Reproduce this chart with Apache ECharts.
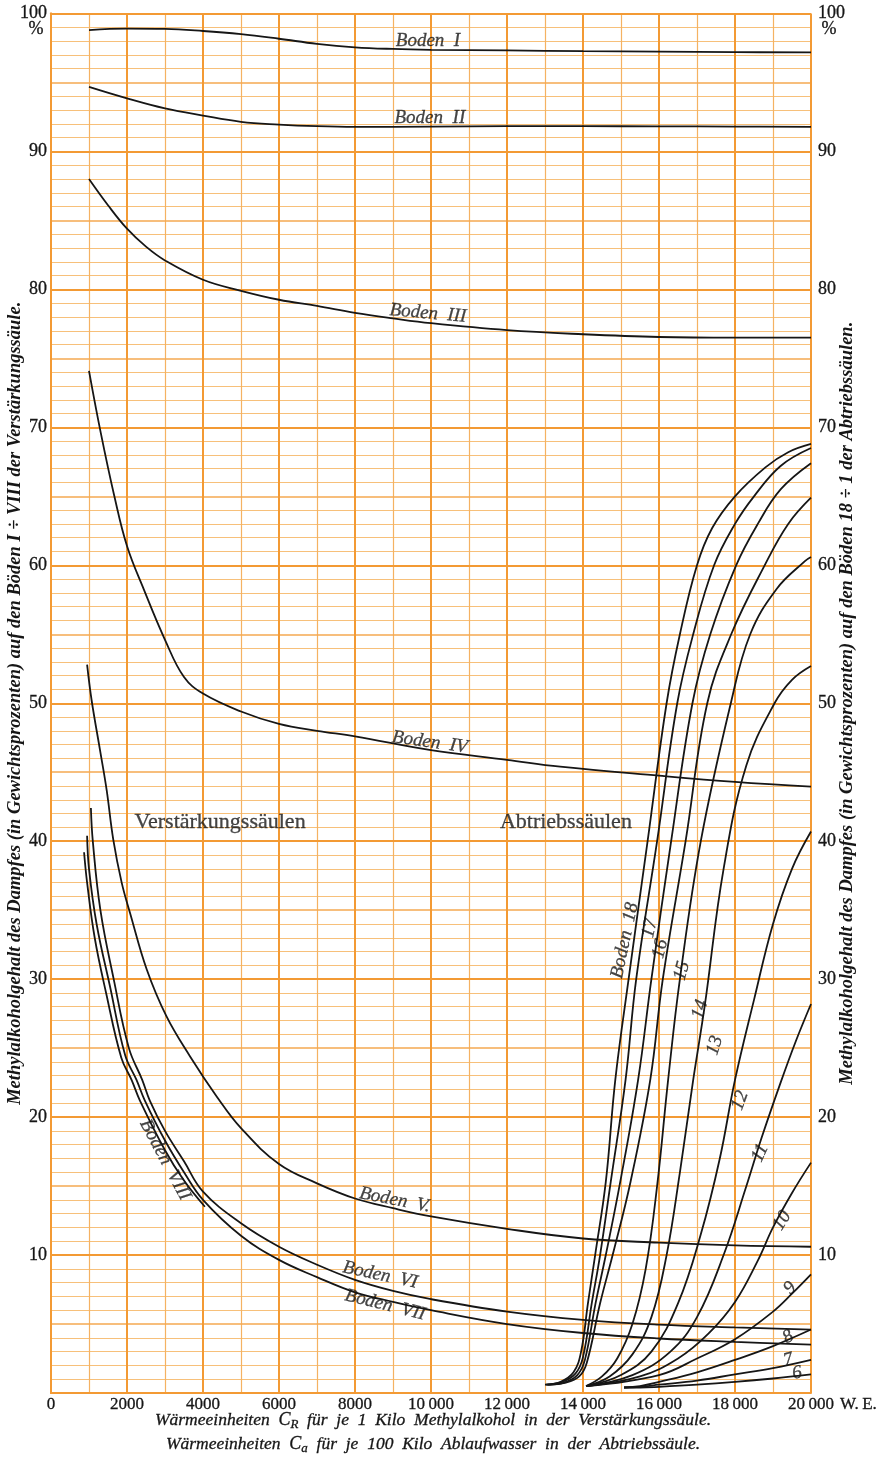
<!DOCTYPE html>
<html>
<head>
<meta charset="utf-8">
<script src="https://cdn.jsdelivr.net/npm/echarts@6/dist/echarts.min.js"></script>
<style>
html,body{margin:0;padding:0;background:#fff;}
#chart{width:880px;height:1460px;}
</style>
</head>
<body>
<div id="chart"></div>
<script>
// Heat units (W.E.) on x, methyl alcohol content of the vapour (% by weight) on y.
const xTickLabels = {0:'0',2000:'2000',4000:'4000',6000:'6000',8000:'8000',10000:'10\u2009000',12000:'12\u2009000',14000:'14\u2009000',16000:'16\u2009000',18000:'18\u2009000',20000:'20\u2009000'};

// Verstärkungssäule, plates I – VIII
const bodenI = [[1000,98.8],[2000,98.9],[3000,98.88],[4000,98.73],[5000,98.5],[6000,98.17],[7000,97.8],[8000,97.55],[9000,97.43],[10000,97.37],[12000,97.32],[14000,97.27],[16000,97.23],[18000,97.2],[20000,97.18]];
const bodenII = [[1000,94.68],[2000,93.85],[3000,93.12],[4000,92.6],[5000,92.15],[6000,91.95],[7000,91.83],[8000,91.78],[10000,91.8],[12000,91.83],[14000,91.83],[16000,91.82],[18000,91.8],[20000,91.78]];
const bodenIII = [[1000,88.0],[1500,86.1],[2000,84.4],[2500,83.1],[3000,82.1],[4000,80.7],[5000,79.9],[6000,79.25],[7000,78.8],[8000,78.3],[9000,77.9],[10000,77.55],[12000,77.05],[14000,76.75],[16000,76.55],[18000,76.5],[20000,76.5]];
const bodenIV = [[1000,74.1],[1310,69.6],[1660,65.1],[2000,61.4],[2450,58.2],[3000,54.6],[3500,51.9],[4000,50.7],[5000,49.4],[6000,48.5],[7000,48.0],[8000,47.6],[10000,46.6],[12000,45.9],[13400,45.4],[16000,44.75],[18000,44.3],[20000,43.95]];
const bodenV = [[950,52.8],[1070,50.2],[1290,46.6],[1465,43.7],[1640,40.1],[1860,37.0],[2080,34.8],[2520,30.7],[3040,27.3],[3660,24.4],[4360,21.5],[5000,19.2],[6000,16.6],[7000,15.2],[8000,14.1],[9000,13.4],[10000,12.8],[12000,11.9],[14000,11.2],[16000,10.9],[18000,10.7],[20000,10.6]];
const bodenVI = [[1050,42.4],[1100,40],[1300,35],[1650,30],[2050,25],[2400,22.7],[2600,21.2],[3000,19],[3500,16.8],[4000,14.6],[5000,12.3],[6000,10.6],[7000,9.3],[8000,8.2],[9000,7.4],[10000,6.8],[12000,5.9],[14000,5.3],[16000,4.95],[18000,4.75],[20000,4.6]];
const bodenVII = [[950,40.4],[1000,38],[1200,34],[1550,29.5],[1950,24.5],[2250,22.7],[2470,21.2],[3000,18.3],[3500,16.0],[4000,14.0],[5000,11.4],[6000,9.65],[7000,8.4],[8000,7.3],[9000,6.6],[10000,6.0],[12000,5.0],[14000,4.35],[16000,3.95],[18000,3.7],[20000,3.5]];
const bodenVIII = [[870,39.2],[950,37],[1150,33],[1450,29],[1850,24.3],[2120,22.7],[2340,21.2],[3000,17.6],[3500,15.4],[4050,13.5]];

// Abtriebssäule, plates 18 – 6
const boden18 = [[13000,0.6],[13400,0.8],[13750,1.5],[13950,3.0],[14130,6.5],[14320,10],[14600,15.3],[14850,22.7],[15200,30],[15700,40],[16200,50],[16550,55],[17000,60],[17400,62.7],[18000,65],[18800,67.1],[19400,68.2],[20000,68.8]];
const boden17 = [[13020,0.6],[13450,0.8],[13800,1.4],[14000,2.6],[14230,6.5],[14450,10],[14730,15.3],[15120,22.7],[15400,30],[15950,40],[16480,50],[16900,55],[17450,60],[18000,63],[18500,65],[19200,67.2],[20000,68.5]];
const boden16 = [[13050,0.6],[13500,0.75],[13850,1.3],[14050,2.4],[14330,6.5],[14600,10],[14980,15.3],[15450,22.7],[15800,30],[16320,40],[16880,50],[17350,55],[18030,60],[18600,63],[19200,65.5],[20000,67.4]];
const boden15 = [[13080,0.6],[13550,0.75],[13900,1.2],[14100,2.2],[14450,6.5],[14780,10],[15250,15.3],[15770,22.7],[16100,30],[16700,40],[17270,50],[17900,55],[18780,60],[19400,63],[20000,64.9]];
const boden14 = [[14080,0.5],[14500,1.2],[14900,2.5],[15300,5],[15650,9],[15950,15],[16240,22.7],[16550,30],[17100,40],[17890,50],[18400,55],[19100,58.3],[19840,60.3],[20000,60.6]];
const boden13 = [[14080,0.5],[14700,1.2],[15300,2.8],[15800,5.5],[16200,10],[16550,16],[16900,22.7],[17200,28],[17700,38],[18300,45.5],[19040,50],[19500,51.7],[20000,52.7]];
const boden12 = [[14100,0.5],[15000,1.3],[15800,3],[16500,6.5],[17100,11.5],[17600,17],[18000,22.7],[18500,28.5],[19000,34],[19500,38],[20000,40.7]];
const boden11 = [[14100,0.5],[15300,1.3],[16300,3],[17000,5.5],[17700,10],[18300,15],[18700,18.5],[19200,22.5],[19600,25.5],[20000,28.2]];
const boden10 = [[14100,0.5],[15500,1.2],[16500,2.5],[17300,4.3],[18000,6.6],[18600,9.6],[19000,12],[19500,14.5],[20000,16.7]];
const boden9 = [[14100,0.5],[16000,1.3],[17000,2.5],[18000,3.9],[19000,5.9],[19500,7.2],[20000,8.6]];
const boden8 = [[15080,0.4],[15500,0.5],[16000,0.8],[17000,1.5],[18000,2.4],[19000,3.4],[20000,4.6]];
const boden7 = [[15080,0.4],[15500,0.45],[16000,0.6],[17000,0.9],[18000,1.35],[19000,1.8],[20000,2.4]];
const boden6 = [[15080,0.4],[15500,0.4],[16000,0.45],[17000,0.6],[18000,0.8],[19000,1.05],[20000,1.35]];

// curve annotations: text, x, y, rotation (deg)
const curveLabels = [
  ['Boden  I', 9920, 98.04, 0],
  ['Boden  II', 9970, 92.46, 0],
  ['Boden  III', 9920, 78.26, -5],
  ['Boden  IV', 9970, 47.17, -8],
  ['Boden  V.', 9050, 13.99, -11],
  ['Boden  VI', 8660, 8.55, -12],
  ['Boden  VII', 8790, 6.38, -14],
  ['Boden  VIII', 3000, 16.9, -62],
  ['Boden  18', 15100, 32.8, 78],
  ['17', 15760, 33.7, 78],
  ['16', 16030, 32.2, 76],
  ['15', 16600, 30.6, 75],
  ['14', 17080, 27.8, 73],
  ['13', 17470, 25.2, 72],
  ['12', 18130, 21.2, 70],
  ['11', 18660, 17.4, 65],
  ['10', 19240, 12.5, 58],
  ['9', 19450, 7.6, 45],
  ['8', 19400, 4.06, 30],
  ['7', 19400, 2.4, 15],
  ['6', 19630, 1.45, 10]
];
const sectionLabels = [
  ['Verstärkungssäulen', 4450, 41.4],
  ['Abtriebssäulen', 13550, 41.4]
];

const curves = [bodenI,bodenII,bodenIII,bodenIV,bodenV,bodenVI,bodenVII,bodenVIII,
  boden18,boden17,boden16,boden15,boden14,boden13,boden12,boden11,boden10,boden9,boden8,boden7,boden6];

const SERIF = '"Liberation Serif", "DejaVu Serif", serif';
const MAJOR = '#f39a34', MID = '#f4a850', MINOR = '#f7c07a', VMINOR = '#f5b262';
const NONE = 'rgba(0,0,0,0)';
const INK = '#161616';

const chart = echarts.init(document.getElementById('chart'), null, {renderer: 'canvas'});

const lineSeries = curves.map(d => ({
  type: 'line', data: d, showSymbol: false, symbol: 'none',
  smooth: 0.4,
  lineStyle: {color: INK, width: 1.8}, z: 5, silent: true
}));

const labelSeries = {
  type: 'scatter', symbolSize: 0, silent: true, z: 6,
  data: curveLabels.map(l => ({
    value: [l[1], l[2]],
    label: {show: true, position: 'inside', formatter: l[0], rotate: l[3],
      fontFamily: SERIF, fontStyle: 'italic', fontSize: 19, color: INK,
      textBorderColor: INK, textBorderWidth: 0.3}
  })).concat(sectionLabels.map(l => ({
    value: [l[1], l[2]],
    label: {show: true, position: 'inside', formatter: l[0],
      fontFamily: SERIF, fontSize: 22, color: INK, textBorderColor: INK, textBorderWidth: 0.3}
  })))
};

const tickText = {fontFamily: SERIF, fontSize: 18, color: INK, textBorderColor: INK, textBorderWidth: 0.3};
const hidden = {axisLine: {show: false}, axisTick: {show: false}, axisLabel: {show: false}};

const option = {
  backgroundColor: '#ffffff',
  animation: false,
  grid: {left: 51, right: 69, top: 13.5, bottom: 67, outerBoundsMode: 'none', containLabel: false},
  xAxis: [
    {
      type: 'value', min: 0, max: 20000, interval: 2000, z: 3,
      axisLine: {show: true, lineStyle: {color: MAJOR, width: 2}},
      axisTick: {show: false},
      axisLabel: Object.assign({formatter: v => xTickLabels[v], margin: 3}, tickText, {fontSize: 17}),
      splitLine: {show: true, lineStyle: {color: MAJOR, width: 2}}
    },
    // 1000-step paper rulings
    Object.assign({type: 'value', min: 0, max: 20000, interval: 1000, z: 1,
      splitLine: {show: true, lineStyle: {color: [NONE, VMINOR], width: 1.2}}}, hidden)
  ],
  yAxis: [
    {
      type: 'value', min: 0, max: 100, interval: 10, position: 'left', z: 3,
      name: 'Methylalkoholgehalt des Dampfes (in Gewichtsprozenten) auf den Böden I \u00f7 VIII der Verstärkungssäule.',
      nameLocation: 'middle', nameRotate: 90, nameGap: 26, nameMoveOverlap: false,
      nameTextStyle: {fontFamily: SERIF, fontStyle: 'italic', fontWeight: 'bold', fontSize: 18.5, color: INK},
      axisLine: {show: true, lineStyle: {color: MAJOR, width: 2}},
      axisTick: {show: false},
      axisLabel: Object.assign({formatter: v => v === 0 ? '' : String(v), margin: 4}, tickText),
      splitLine: {show: true, lineStyle: {color: MAJOR, width: 2}}
    },
    {
      type: 'value', min: 0, max: 100, interval: 10, position: 'right', z: 3,
      name: 'Methylalkoholgehalt des Dampfes (in Gewichtsprozenten) auf den Böden 18 \u00f7 1 der Abtriebssäulen.',
      nameLocation: 'middle', nameRotate: 90, nameGap: 27, nameMoveOverlap: false,
      nameTextStyle: {fontFamily: SERIF, fontStyle: 'italic', fontWeight: 'bold', fontSize: 18.5, color: INK},
      axisLine: {show: true, lineStyle: {color: MAJOR, width: 2}},
      axisTick: {show: false},
      axisLabel: Object.assign({formatter: v => v === 0 ? '' : String(v), margin: 7}, tickText),
      splitLine: {show: false}
    },
    // 5 % rulings
    Object.assign({type: 'value', min: 0, max: 100, interval: 5, position: 'left', z: 2,
      splitLine: {show: true, lineStyle: {color: [NONE, MID], width: 1.5}}}, hidden),
    // 1 % rulings
    Object.assign({type: 'value', min: 0, max: 100, interval: 1, position: 'left', z: 1,
      splitLine: {show: true, lineStyle: {color: [NONE, MINOR, MINOR, MINOR, MINOR], width: 1}}}, hidden)
  ],
  series: lineSeries.concat([labelSeries])
};
chart.setOption(option);

// Unit marks and the x-axis caption, placed from the axis scales
const pTop = chart.convertToPixel({gridIndex: 0}, [0, 100]);
const pEnd = chart.convertToPixel({gridIndex: 0}, [20000, 0]);
const pMid = chart.convertToPixel({gridIndex: 0}, [10000, 0]);
const capBase = {fontFamily: SERIF, fontStyle: 'italic', fontSize: 17.5, fill: INK, stroke: INK, lineWidth: 0.3};
const capStyle = Object.assign({}, capBase, {
  rich: {
    t: Object.assign({}, capBase),
    c: Object.assign({}, capBase, {fontSize: 18}),
    s: Object.assign({}, capBase, {fontSize: 13, padding: [9, 0, 0, 0]})
  }
});
const markText = {fontFamily: SERIF, fontSize: 18, fill: INK, stroke: INK, lineWidth: 0.3};
chart.setOption({
  graphic: [
    {type: 'text', x: pTop[0] - 15, y: pTop[1] + 16, style: Object.assign({text: '%', align: 'center', verticalAlign: 'middle'}, markText)},
    {type: 'text', x: pEnd[0] + 18, y: pTop[1] + 16, style: Object.assign({text: '%', align: 'center', verticalAlign: 'middle'}, markText)},
    {type: 'text', x: pEnd[0] + 29, y: pEnd[1] + 12, style: Object.assign({text: 'W.\u2009E.', align: 'left', verticalAlign: 'middle'}, markText, {fontSize: 17})},
    {type: 'text', x: pMid[0] + 2, y: pEnd[1] + 16, style: Object.assign({}, capStyle, {
      text: '{t|Wärmeeinheiten}  {c|C}{s|R}  {t|für  je  1  Kilo  Methylalkohol  in  der  Verstärkungssäule.}', align: 'center', verticalAlign: 'top'})},
    {type: 'text', x: pMid[0] + 2, y: pEnd[1] + 40, style: Object.assign({}, capStyle, {
      text: '{t|Wärmeeinheiten}  {c|C}{s|a}  {t|für  je  100  Kilo  Ablaufwasser  in  der  Abtriebssäule.}', align: 'center', verticalAlign: 'top'})}
  ]
});
</script>
</body>
</html>
